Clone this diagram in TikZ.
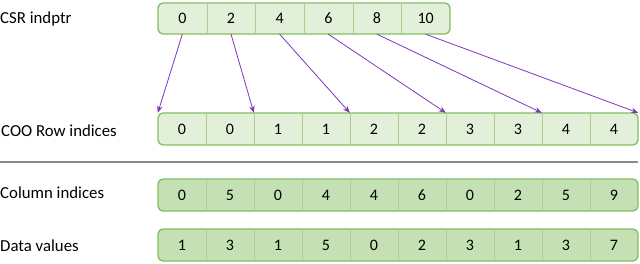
\documentclass[tikz,border=0pt]{standalone}
\usepackage{fontspec}
\setmainfont{Carlito}
\usepackage{xcolor}
\definecolor{cellgreen}{RGB}{226,240,217}
\definecolor{celldark}{RGB}{197,224,180}
\definecolor{cellborder}{RGB}{130,190,95}
\definecolor{ptrpurple}{RGB}{125,55,185}
\usetikzlibrary{arrows.meta, positioning}

\begin{document}
\begin{tikzpicture}[x=1pt, y=-1pt,
  rowbox/.style={draw=cellborder, line width=1.3pt, rounded corners=5pt},
  cell/.style={rectangle, inner sep=0pt, minimum height=31pt, font=\fontsize{16}{18}\selectfont},
  divider/.style={draw=cellborder!70, line width=0.7pt},
  rowlabel/.style={anchor=west, inner sep=0pt, font=\fontsize{16.8}{19}\selectfont},
  ptr/.style={-{Stealth[length=7pt, width=5.5pt]}, draw=ptrpurple, line width=0.8pt}
]
\useasboundingbox (0,0) rectangle (640,263);

% Labels
\node[rowlabel] (lcsr) at (0, 19) {CSR indptr};
\node[rowlabel] (lcoo) at (1, 131) {COO Row indices};
\node[rowlabel] (lcol) at (0, 193) {Column indices};
\node[rowlabel] (ldat) at (0, 246) {Data values};

% CSR indptr
\draw[rowbox, fill=cellgreen] (158, 3) rectangle (450, 34);
\foreach \v [count=\i from 0] in {0,2,4,6,8,10}
  \node[cell, minimum width=48.67pt] (csr\i) at (158+24.33+48.67*\i, 18.5) {\v};
\foreach \i in {0,...,4}
  \draw[divider] (csr\i.north east) -- (csr\i.south east);

% COO row indices
\draw[rowbox, fill=cellgreen] (158, 113) rectangle (638, 145);
\foreach \v [count=\i from 0] in {0,0,1,1,2,2,3,3,4,4}
  \node[cell, minimum width=48pt, minimum height=32pt] (coo\i) at (182+48*\i, 129) {\v};
\foreach \i in {0,...,8}
  \draw[divider] (coo\i.north east) -- (coo\i.south east);

% Separator
\coordinate (sepl) at (0, 162);
\coordinate (sepr) at (638, 162);
\draw[gray!90, line width=1.4pt] (sepl) -- (sepr);

% Column indices
\draw[rowbox, fill=celldark] (158, 179) rectangle (638, 211);
\foreach \v [count=\i from 0] in {0,5,0,4,4,6,0,2,5,9}
  \node[cell, minimum width=48pt, minimum height=32pt] (col\i) at (182+48*\i, 195) {\v};
\foreach \i in {0,...,8}
  \draw[divider] (col\i.north east) -- (col\i.south east);

% Data values
\draw[rowbox, fill=celldark] (158, 229) rectangle (638, 261);
\foreach \v [count=\i from 0] in {1,3,1,5,0,2,3,1,3,7}
  \node[cell, minimum width=48pt, minimum height=32pt] (dat\i) at (182+48*\i, 245) {\v};
\foreach \i in {0,...,8}
  \draw[divider] (dat\i.north east) -- (dat\i.south east);

% Pointers
\draw[ptr] (csr0.south) -- (coo0.north west);
\draw[ptr] (csr1.south) -- (coo2.north west);
\draw[ptr] (csr2.south) -- (coo4.north west);
\draw[ptr] (csr3.south) -- (coo6.north west);
\draw[ptr] (csr4.south) -- (coo8.north west);
\draw[ptr] (csr5.south) -- (coo9.north east);

\end{tikzpicture}
\end{document}
